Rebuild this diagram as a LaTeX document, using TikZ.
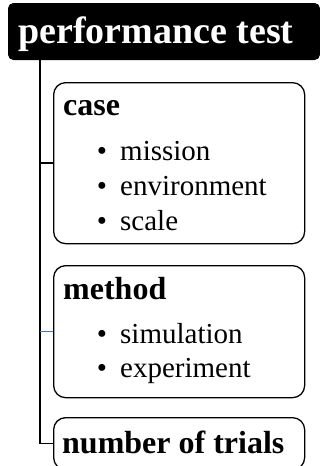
\documentclass[tikz,border=0pt]{standalone}
\usepackage{fontspec}
\setmainfont{Liberation Serif}
\begin{document}
\begin{tikzpicture}[x=1pt,y=1pt,
  header/.style={draw=black,fill=black,rounded corners=5pt,line width=1pt,
    anchor=north west,inner sep=0pt,minimum width=311pt,minimum height=56pt},
  panel/.style={draw=black,rounded corners=12pt,line width=1.3pt,
    anchor=north west,inner sep=0pt,minimum width=251pt},
  link/.style={draw=black,line width=1.4pt},
  bluelink/.style={draw=linkblue,line width=1.4pt},
  title/.style={anchor=base west,inner sep=0pt,font=\fontsize{32}{36}\selectfont\bfseries},
  item/.style={anchor=base west,inner sep=0pt,font=\fontsize{29}{33}\selectfont},
  dot/.style={anchor=base,inner sep=0pt,font=\fontsize{29}{33}\selectfont}]
\definecolor{linkblue}{HTML}{4472C4}
\clip (0,0) rectangle (320,-466);
\useasboundingbox (0,0) rectangle (320,-466);
\fill[white] (0,0) rectangle (320,-466);

% top heading
\node[header] (hdr) at (8,-3) {};
\node[anchor=base west,inner sep=0pt,text=white,
  font=\fontsize{38}{42}\selectfont\bfseries] (hdrtext) at (18,-43) {performance test};

% panels
\node[panel,minimum height=161pt] (case) at (53,-82) {};
\node[panel,minimum height=132pt] (method) at (53,-265) {};
\node[panel,minimum height=52pt] (trials) at (53,-417) {};

% panel contents
\node[title] (casettl) at (63,-115) {case};
\node[dot] (b1) at (102,-160) {\textbullet};
\node[item] (i1) at (120,-160) {mission};
\node[dot] (b2) at (102,-195) {\textbullet};
\node[item] (i2) at (120,-195) {environment};
\node[dot] (b3) at (102,-230) {\textbullet};
\node[item] (i3) at (120,-230) {scale};

\node[title] (methodttl) at (63,-299) {method};
\node[dot] (b4) at (102,-343) {\textbullet};
\node[item] (i4) at (120,-343) {simulation};
\node[dot] (b5) at (102,-377) {\textbullet};
\node[item] (i5) at (120,-377) {experiment};

\node[title] (trialsttl) at (62,-453) {number of trials};

% tree connectors
\coordinate (trunk) at (40,-59);
\draw[link] (trunk) |- (trials.west);
\draw[link] (case.west) -- (case.west -| trunk);
\draw[bluelink] (method.west) -- (method.west -| trunk);
\end{tikzpicture}
\end{document}
